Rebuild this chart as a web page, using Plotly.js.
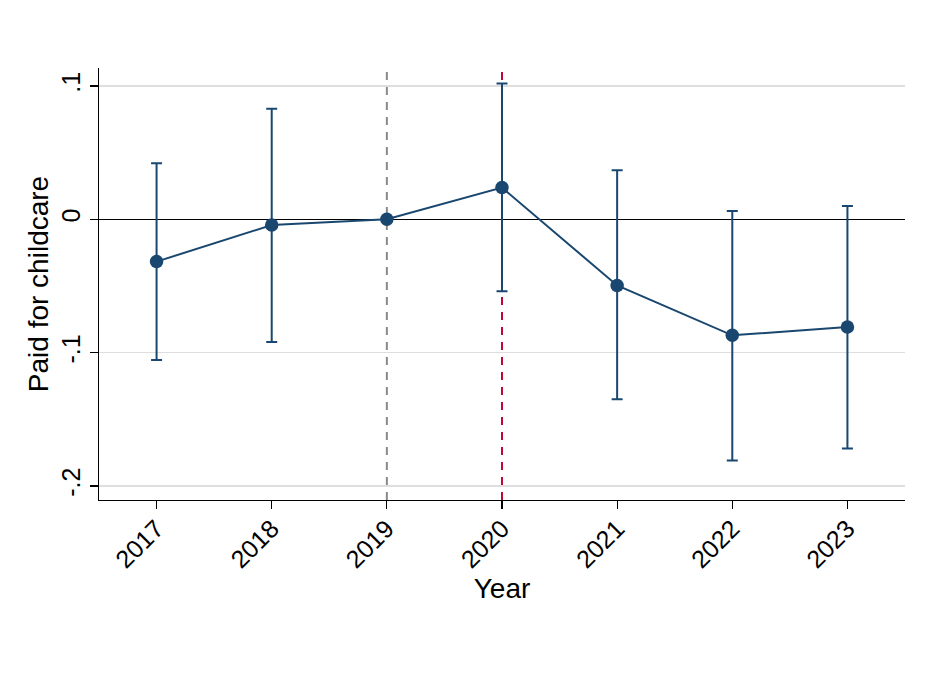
<!DOCTYPE html>
<html>
<head>
<meta charset="utf-8">
<script src="https://cdn.plot.ly/plotly-3.0.1.min.js"></script>
<style>html,body{margin:0;padding:0;background:#fff;}#chart{width:929px;height:675px;}</style>
</head>
<body>
<div id="chart"></div>
<script>
// Data
const years = [2017, 2018, 2019, 2020, 2021, 2022, 2023];
const estimate = [-0.0317, -0.0043, 0.0, 0.0238, -0.0496, -0.0870, -0.0808];
const ciUpper = [0.0420, 0.0830, null, 0.1018, 0.0368, 0.0062, 0.0100];
const ciLower = [-0.1055, -0.0920, null, -0.0540, -0.1350, -0.1808, -0.1718];
const yTickVals = [-0.2, -0.1, 0, 0.1];
const yTickText = ['-.2', '-.1', '0', '.1'];
const refYearGray = 2019;
const refYearRed = 2020;

const navy = '#1a476f';
const errPlus = years.map((_, i) => ciUpper[i] === null ? null : ciUpper[i] - estimate[i]);
const errMinus = years.map((_, i) => ciLower[i] === null ? null : estimate[i] - ciLower[i]);

const trace = {
  x: years,
  y: estimate,
  type: 'scatter',
  mode: 'lines+markers',
  line: {color: navy, width: 2},
  marker: {color: navy, size: 13.5},
  error_y: {
    type: 'data',
    symmetric: false,
    array: errPlus,
    arrayminus: errMinus,
    color: navy,
    thickness: 2,
    width: 5.5
  },
  showlegend: false,
  hoverinfo: 'x+y'
};

const layout = {
  width: 929,
  height: 675,
  paper_bgcolor: '#ffffff',
  plot_bgcolor: '#ffffff',
  margin: {l: 99, r: 24, t: 68, b: 175},
  font: {family: 'Liberation Sans, Arial, sans-serif', color: '#000000', size: 25},
  xaxis: {
    range: [2016.5, 2023.5],
    tickvals: years,
    ticktext: years.map(String),
    tickangle: -45,
    ticks: 'outside',
    ticklen: 8,
    tickwidth: 1.2,
    tickcolor: '#000000',
    ticklabelstandoff: -5,
    showgrid: false,
    zeroline: false,
    showline: true,
    linecolor: '#000000',
    linewidth: 1.2,
    tickfont: {size: 25},
    title: {text: 'Year', font: {size: 28}, standoff: 4}
  },
  yaxis: {
    range: [-0.2105, 0.1135],
    tickvals: yTickVals,
    ticktext: yTickText,
    tickangle: -90,
    ticks: 'outside',
    ticklen: 8,
    tickwidth: 1.2,
    tickcolor: '#000000',
    showgrid: true,
    gridcolor: '#dedede',
    gridwidth: 1.5,
    zeroline: true,
    zerolinecolor: '#000000',
    zerolinewidth: 1.2,
    showline: true,
    linecolor: '#000000',
    linewidth: 1.2,
    tickfont: {size: 25},
    title: {text: 'Paid for childcare', font: {size: 28}, standoff: 0}
  },
  shapes: [
    {type: 'line', xref: 'x', yref: 'paper', x0: refYearGray, x1: refYearGray, y0: 0, y1: 1,
     line: {color: '#8a8a8a', width: 2, dash: '8px,7px'}, layer: 'between'},
    {type: 'line', xref: 'x', yref: 'paper', x0: refYearRed, x1: refYearRed, y0: 0, y1: 1,
     line: {color: '#c10534', width: 2, dash: '8px,7px'}, layer: 'between'}
  ]
};

Plotly.newPlot('chart', [trace], layout, {displayModeBar: false, staticPlot: true});
</script>
</body>
</html>
